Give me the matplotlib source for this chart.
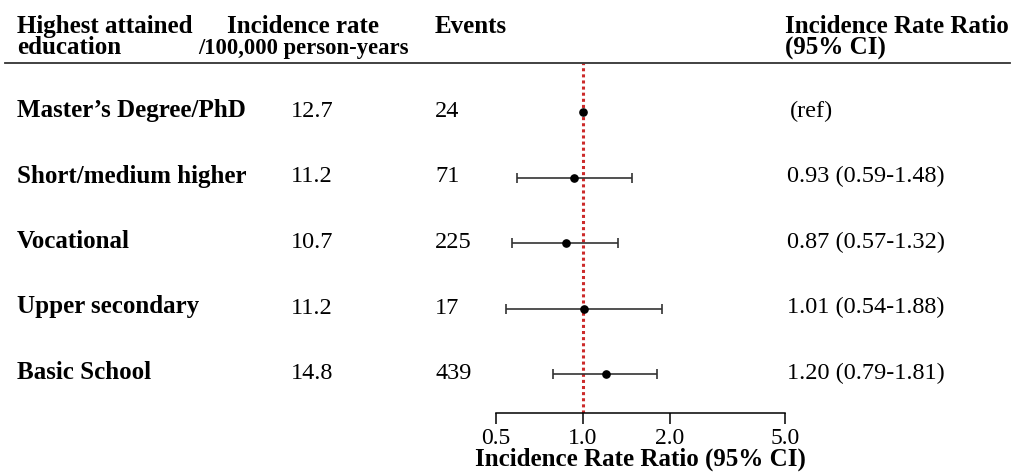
import matplotlib
matplotlib.use("Agg")
import matplotlib.pyplot as plt
from matplotlib import transforms
from matplotlib.lines import Line2D
import numpy as np

# ---- data ----
categories = ["Master\u2019s Degree/PhD", "Short/medium higher", "Vocational",
              "Upper secondary", "Basic School"]
incidence_rate = ["12.7", "11.2", "10.7", "11.2", "14.8"]
events = ["24", "71", "225", "17", "439"]
irr = [1.00, 0.93, 0.87, 1.01, 1.20]
ci_low = [np.nan, 0.59, 0.57, 0.54, 0.79]
ci_high = [np.nan, 1.48, 1.32, 1.88, 1.81]
irr_text = ["(ref)", "0.93 (0.59-1.48)", "0.87 (0.57-1.32)",
            "1.01 (0.54-1.88)", "1.20 (0.79-1.81)"]
xticks = [0.5, 1.0, 2.0, 5.0]
xtick_labels = ["0.5", "1.0", "2.0", "5.0"]

plt.rcParams['font.family'] = ['Liberation Serif', 'DejaVu Serif']

W, H = 1016, 476
fig = plt.figure(figsize=(W / 100, H / 100), dpi=100)

def fx(px):
    return px / W

def fy(py):
    return 1 - py / H

# forest axes
ax_left, ax_right, ax_top, ax_bot = 496, 785, 63, 413
ax = fig.add_axes([fx(ax_left), fy(ax_bot), fx(ax_right - ax_left), (ax_bot - ax_top) / H])
ax.set_xscale('log')
ax.set_xlim(0.5, 5.0)
row0, step = 112, 65.5
ax.set_ylim((ax_bot - row0) / step, (ax_top - row0) / step)

rows = np.arange(len(categories))
ax.axvline(1.0, color='#CC2A2A', linestyle=(0, (1, 1)), lw=2.2, zorder=1)

lo = np.array(ci_low)
hi = np.array(ci_high)
est = np.array(irr)
mask = ~np.isnan(lo)
ax.errorbar(est[mask], rows[mask], xerr=[est[mask] - lo[mask], hi[mask] - est[mask]],
            fmt='none', ecolor='#333333', elinewidth=1.2, capsize=3.6, capthick=1.2, zorder=2)
ax.plot(est, rows, 'o', color='black', markersize=5.2, zorder=3)

for s in ['top', 'left', 'right']:
    ax.spines[s].set_visible(False)
ax.spines['bottom'].set_linewidth(1.1)
ax.set_yticks([])
ax.set_xticks(xticks)
ax.set_xticklabels(xtick_labels)
ax.xaxis.set_minor_locator(matplotlib.ticker.NullLocator())
ax.tick_params(axis='x', direction='out', length=8, width=1.1, pad=3, labelsize=17)
ax.set_xlabel("Incidence Rate Ratio (95% CI)", fontsize=18, fontweight='bold', labelpad=-1)

# text columns
blend = transforms.blended_transform_factory(fig.transFigure, ax.transData)
tr = transforms.offset_copy(blend, fig=fig, x=0, y=-5, units='dots')
for i in rows:
    ax.text(fx(17), i, categories[i], transform=tr, fontsize=18, fontweight='bold',
            va='baseline', ha='left', clip_on=False)
    ax.text(fx(291), i, incidence_rate[i], transform=tr, fontsize=17.5,
            va='baseline', ha='left', clip_on=False)
    ax.text(fx(435), i, events[i], transform=tr, fontsize=17.5,
            va='baseline', ha='left', clip_on=False)
    ax.text(fx(790 if i == 0 else 787), i, irr_text[i], transform=tr, fontsize=17.5,
            va='baseline', ha='left', clip_on=False)

# header
hdr = dict(fontsize=18, fontweight='bold', va='baseline', ha='left')
fig.text(fx(17), fy(33), "Highest attained", **hdr)
fig.text(fx(17), fy(54), "education", **hdr)
fig.text(fx(227), fy(33), "Incidence rate", **hdr)
fig.text(fx(198), fy(54), "/100,000 person-years", fontsize=16.3, fontweight='bold',
         va='baseline', ha='left')
fig.text(fx(435), fy(33), "Events", **hdr)
fig.text(fx(785), fy(33), "Incidence Rate Ratio", **hdr)
fig.text(fx(785), fy(55), "(95% CI)", **hdr)

fig.add_artist(Line2D([fx(5), fx(1010)], [fy(63), fy(63)], transform=fig.transFigure,
                      color='#333333', lw=1.3))

fig.savefig("out.png", dpi=100)
